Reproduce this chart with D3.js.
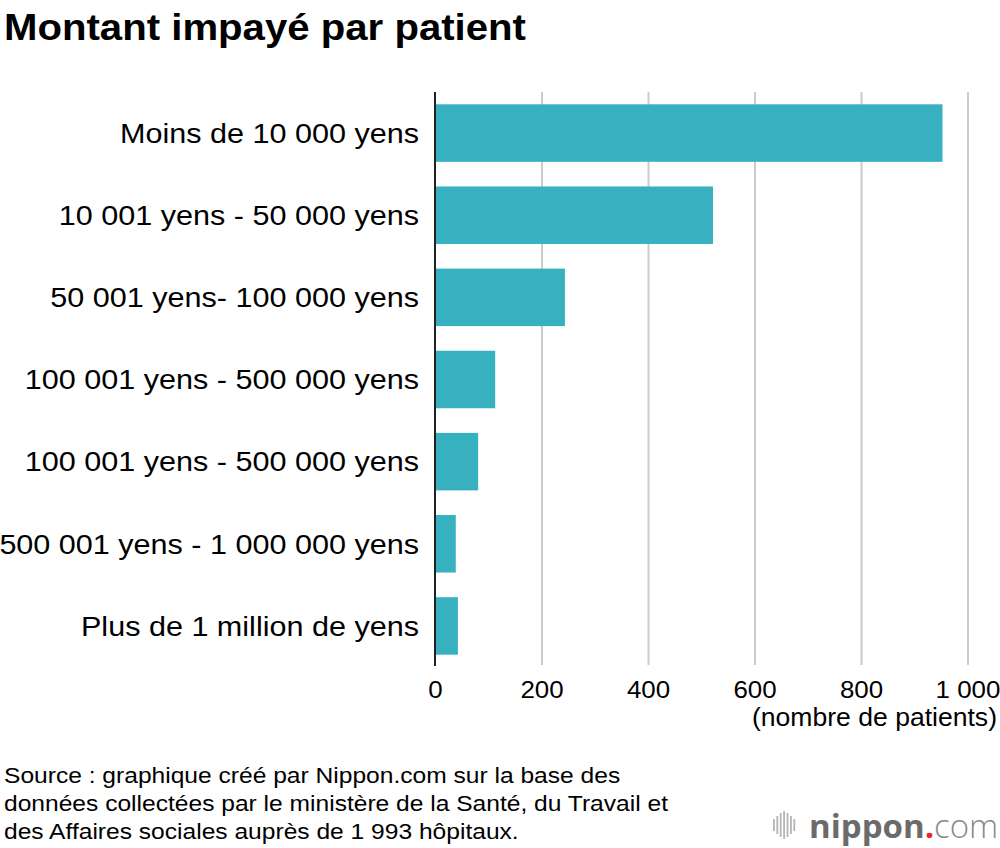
<!DOCTYPE html>
<html>
<head>
<meta charset="utf-8">
<script src="https://cdn.jsdelivr.net/npm/d3@7"></script>
<style>
  body { margin: 0; background: #fff; }
  svg { display: block; font-family: "Liberation Sans", Arial, sans-serif; }
</style>
</head>
<body>
<svg width="1000" height="848"></svg>
<script>
const categories = [
  "Moins de 10 000 yens",
  "10 001 yens - 50 000 yens",
  "50 001 yens- 100 000 yens",
  "100 001 yens - 500 000 yens",
  "100 001 yens - 500 000 yens",
  "500 001 yens - 1 000 000 yens",
  "Plus de 1 million de yens"
];
const patients = [953, 522, 244, 113, 81, 39, 43];
const xTicks = [0, 200, 400, 600, 800, 1000];
const sourceLines = [
  "Source : graphique créé par Nippon.com sur la base des",
  "données collectées par le ministère de la Santé, du Travail et",
  "des Affaires sociales auprès de 1 993 hôpitaux."
];

const svg = d3.select("svg");
const fr = d3.formatLocale({ decimal: ",", thousands: "\u00a0", grouping: [3], currency: ["", ""] });

const x = d3.scaleLinear().domain([0, 1000]).range([435, 967.5]);
const y = d3.scaleBand()
  .domain(d3.range(categories.length))
  .range([92, 667])
  .paddingInner(0.3)
  .paddingOuter(0.15);

// stretch a text so it reads as wide as the original face
function widen(sel, factor) {
  sel.each(function () {
    const w = this.getComputedTextLength();
    d3.select(this).attr("textLength", w * factor).attr("lengthAdjust", "spacingAndGlyphs");
  });
}

// title
svg.append("text")
  .attr("x", 4).attr("y", 40)
  .attr("font-size", 37).attr("font-weight", "bold")
  .attr("fill", "#000")
  .attr("textLength", 522).attr("lengthAdjust", "spacingAndGlyphs")
  .text("Montant impayé par patient");

// gridlines + tick labels
const xAxis = svg.append("g")
  .attr("transform", "translate(0,665)")
  .call(d3.axisBottom(x).tickValues(xTicks).tickSize(-573).tickFormat(fr.format(",")));
xAxis.select(".domain").remove();
xAxis.selectAll(".tick line").attr("stroke", "#cccccc").attr("stroke-width", 2);
xAxis.selectAll(".tick text")
  .attr("y", 16).attr("dy", "0.71em")
  .attr("font-size", 24).attr("fill", "#000")
  .attr("font-family", "Liberation Sans, Arial, sans-serif")
  .call(widen, 1.08);
xAxis.selectAll(".tick").filter(d => d === 0).select("line").remove();

svg.append("text")
  .attr("x", 997).attr("y", 726)
  .attr("text-anchor", "end")
  .attr("font-size", 25)
  .attr("textLength", 245).attr("lengthAdjust", "spacingAndGlyphs")
  .text("(nombre de patients)");

// bars
svg.append("g").selectAll("rect")
  .data(patients)
  .join("rect")
  .attr("x", x(0))
  .attr("y", (d, i) => y(i))
  .attr("width", d => x(d) - x(0))
  .attr("height", y.bandwidth())
  .attr("fill", "#37b0c0");

// category labels
const labels = svg.append("g").selectAll("text")
  .data(categories)
  .join("text")
  .attr("x", 419)
  .attr("y", (d, i) => y(i) + y.bandwidth() / 2)
  .attr("dy", "0.36em")
  .attr("text-anchor", "end")
  .attr("font-size", 27)
  .attr("fill", "#000")
  .text(d => d);
const labelFactor = 299 / labels.node().getComputedTextLength();
labels.call(widen, labelFactor);

// baseline axis
svg.append("line")
  .attr("x1", x(0)).attr("x2", x(0))
  .attr("y1", 92).attr("y2", 666)
  .attr("stroke", "#222").attr("stroke-width", 2);

// source
const src = svg.append("g").selectAll("text")
  .data(sourceLines)
  .join("text")
  .attr("x", 4)
  .attr("y", (d, i) => 783 + i * 28)
  .attr("font-size", 22)
  .attr("fill", "#000")
  .text(d => d);
const srcFactor = 664 / src.nodes()[1].getComputedTextLength();
src.call(widen, srcFactor);

// logo
const logo = svg.append("g").attr("transform", "translate(773,838)");
const barsH = [12, 18, 24, 28, 24, 18, 12];
logo.selectAll("rect")
  .data(barsH)
  .join("rect")
  .attr("x", (d, i) => i * 3.4)
  .attr("y", d => -13 - d / 2)
  .attr("width", 1.8)
  .attr("height", d => d)
  .attr("fill", "#b5b5b5");
const lt = logo.append("text")
  .attr("x", 36).attr("y", 0)
  .attr("font-size", 33)
  .attr("font-family", "'Open Sans', 'DejaVu Sans', sans-serif");
lt.append("tspan").attr("font-weight", "bold").attr("fill", "#6b6b6b").text("nippon");
lt.append("tspan").attr("font-weight", "bold").attr("fill", "#e8262d").text(".");
lt.append("tspan").attr("font-weight", "300").attr("fill", "#8a8a8a").text("com");
</script>
</body>
</html>
